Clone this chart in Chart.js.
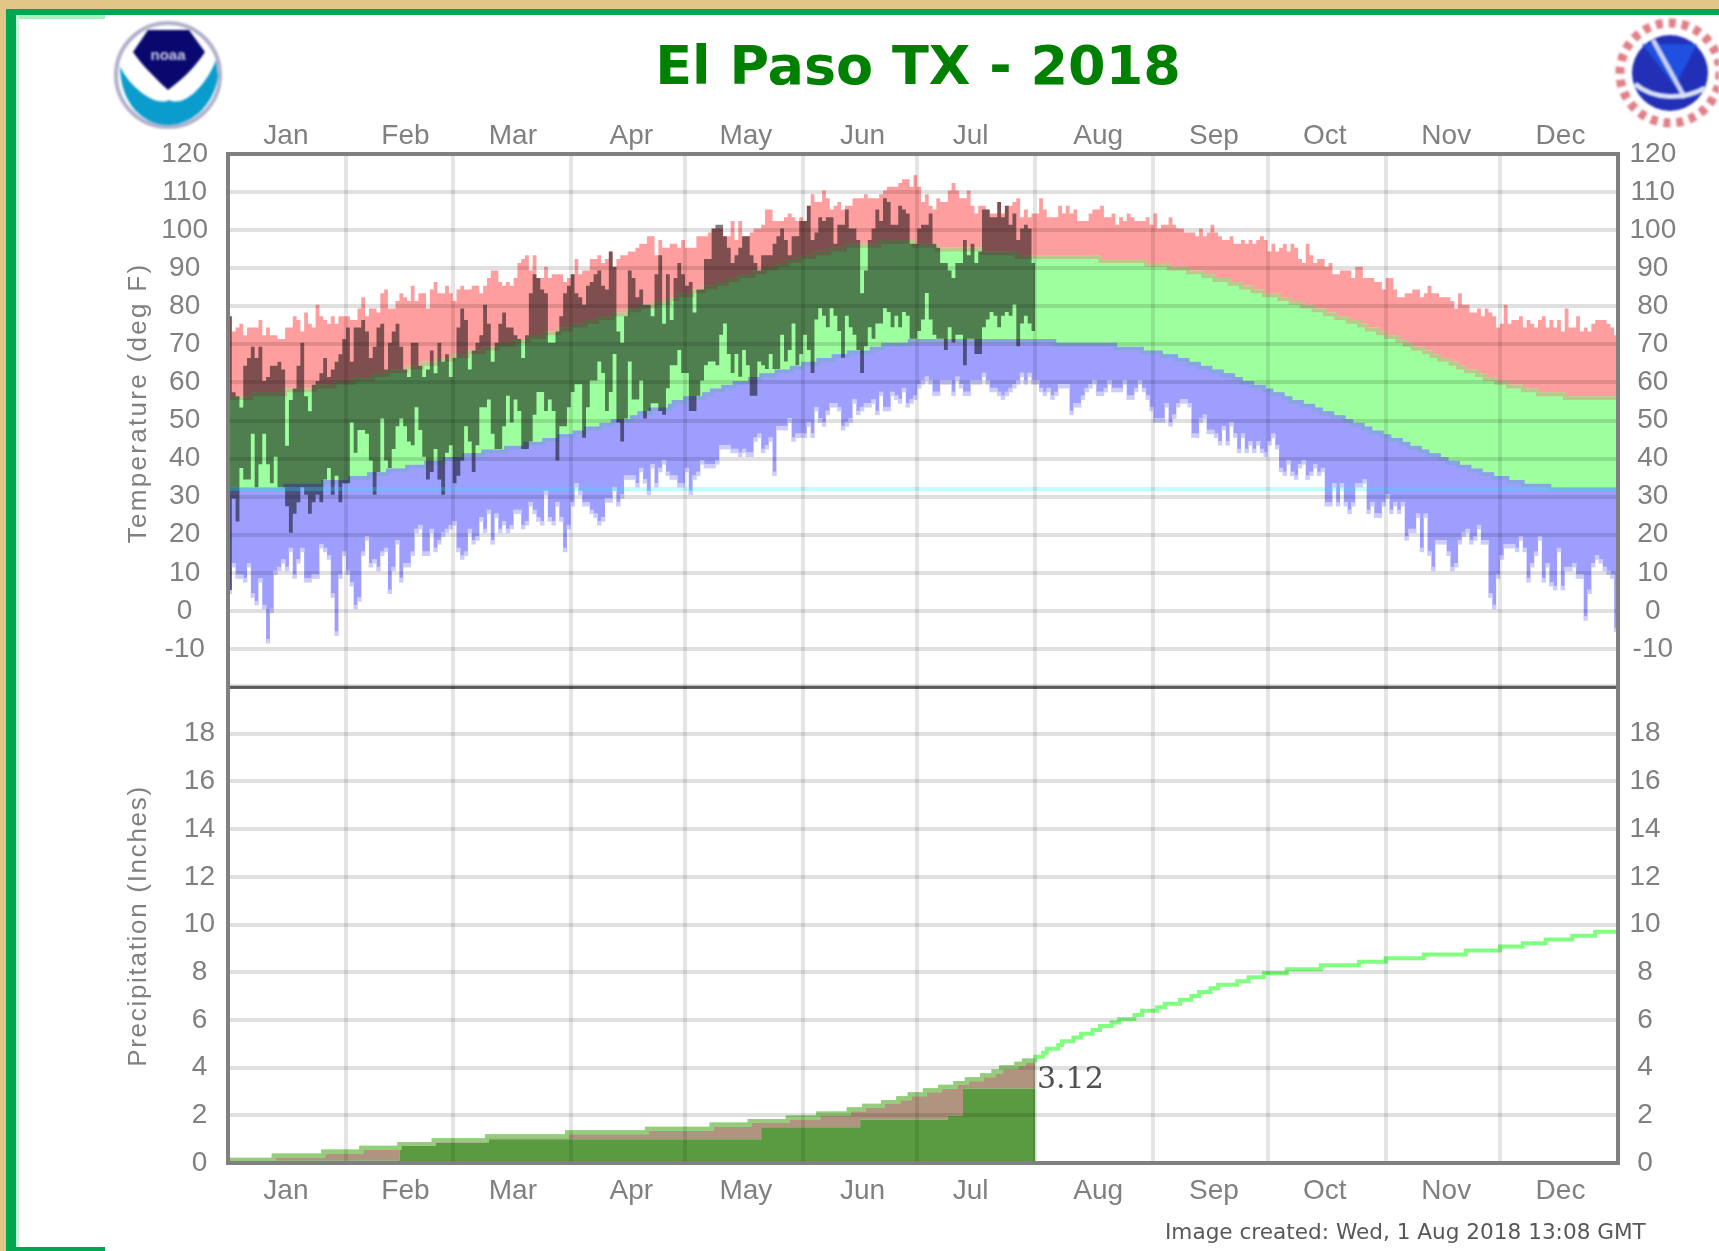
<!DOCTYPE html>
<html>
<head>
<meta charset="utf-8">
<title>El Paso TX - 2018</title>
<script src="https://cdn.jsdelivr.net/npm/chart.js@4/dist/chart.umd.min.js"></script>
<style>
    html, body { margin: 0; padding: 0; }
    body { width: 1719px; height: 1251px; position: relative; overflow: hidden; background: #e2c687; font-family: "Liberation Sans", sans-serif; }
    .abs { position: absolute; }
    .axisTitle { color: #808080; font-size: 26px; white-space: nowrap; transform: translate(-50%, -50%) rotate(-90deg); }
    canvas { position: absolute; left: 0; }
</style>
</head>
<body>
<div class="abs" style="left:6px;top:9px;right:0;bottom:0;background:#00a651;"></div>
<div class="abs" style="left:16px;top:15px;right:0;bottom:0;background:#fff;"></div>
<div class="abs" style="left:16px;top:15px;width:89px;height:4px;background:#a8f0c0;"></div>
<div class="abs" style="left:16px;top:15px;width:3px;bottom:0;background:#c8f4d8;"></div>
<div class="abs" style="left:16px;top:1247px;right:0;height:4px;background:#fff;"></div>
<div class="abs" style="left:16px;top:1247px;width:89px;height:4px;background:#00a651;"></div>

<svg class="abs" style="left:105px;top:16px;filter:blur(0.8px);" width="125" height="118" viewBox="0 0 125 118">
    <circle cx="63" cy="59" r="52" fill="#fff" stroke="#b0b0cc" stroke-width="4"/>
    <path d="M 15 50 C 22 68 50 92 64 84 C 80 92 102 68 111 44 L 113 60 C 110 85 90 109 63 109 C 36 109 15 85 15 50 Z" fill="#0a9ccc"/>
    <path d="M 28 36 L 43 14 L 84 14 L 100 36 C 92 48 82 60 63 74 C 50 62 36 48 28 36 Z" fill="#08086e"/>
    <text x="63" y="44" text-anchor="middle" font-size="15" font-weight="bold" fill="#c8c8e8" font-family="Liberation Sans">noaa</text>
</svg>
<svg class="abs" style="left:1609px;top:16px;filter:blur(0.8px);" width="110" height="118" viewBox="0 0 110 118">
    <circle cx="61" cy="57" r="50" fill="none" stroke="#e08088" stroke-width="9" stroke-dasharray="7 6"/>
    <circle cx="61" cy="57" r="38" fill="#2230b8"/>
    <path d="M 33 28 L 88 28 L 66 70 Z" fill="#2050e0"/>
    <path d="M 44 24 L 76 82" stroke="#c8d0f0" stroke-width="5" fill="none"/>
    <path d="M 26 68 C 45 84 75 84 96 72" stroke="#d8e0f4" stroke-width="5" fill="none"/>
</svg>

<canvas id="tempChart" width="1719" height="740" style="top:0;"></canvas>
<canvas id="precipChart" width="1719" height="611" style="top:640px;"></canvas>

<div class="abs" style="left:918px;top:65px;transform:translate(-50%,-50%);color:#008000;font:bold 54px 'DejaVu Sans';white-space:nowrap;filter:blur(0.5px);">El Paso TX - 2018</div>
<div class="abs axisTitle" style="left:137px;top:403px;letter-spacing:2.3px;">Temperature (deg F)</div>
<div class="abs axisTitle" style="left:137px;top:926px;letter-spacing:1.7px;">Precipitation (Inches)</div>
<div class="abs" style="left:1037px;top:1060px;color:#505050;font:30px 'DejaVu Serif';">3.12</div>
<div class="abs" style="left:1165px;top:1219px;color:#585858;font:21.6px 'DejaVu Sans';white-space:nowrap;">Image created: Wed, 1 Aug 2018 13:08 GMT</div>

<script>
const monthNames = ['Jan', 'Feb', 'Mar', 'Apr', 'May', 'Jun', 'Jul', 'Aug', 'Sep', 'Oct', 'Nov', 'Dec'];
const monthStartDays = [0, 31, 59, 90, 120, 151, 181, 212, 243, 273, 304, 334];
const monthLabelDays = [15.2, 46.6, 74.8, 105.9, 136, 166.6, 195, 228.5, 258.9, 288, 319.9, 349.9];
const daysInYear = 365;

// normals only change every few days, so they are kept as step start + value
const normalHighDays = [0, 6, 15, 23, 28, 33, 38, 42, 47, 51, 55, 59, 63, 67, 71, 75, 79, 83, 87, 90, 94, 97, 101, 105, 108, 112, 116, 118, 122, 125, 128, 131, 134, 138, 141, 144, 147, 150, 154, 158, 162, 171, 180, 186, 198, 207, 229, 241, 247, 252, 256, 259, 263, 266, 269, 272, 276, 279, 282, 285, 288, 291, 294, 297, 299, 302, 304, 307, 309, 311, 314, 316, 318, 321, 323, 325, 328, 330, 333, 336, 340, 344, 351];
const normalHighTemps = [56, 57, 58, 59, 60, 61, 62, 63, 64, 65, 66, 67, 68, 69, 70, 71, 72, 73, 74, 75, 76, 77, 78, 79, 80, 81, 82, 83, 84, 85, 86, 87, 88, 89, 90, 91, 92, 93, 94, 95, 96, 97, 96, 95, 94, 93, 92, 91, 90, 89, 88, 87, 86, 85, 84, 83, 82, 81, 80, 79, 78, 77, 76, 75, 74, 73, 72, 71, 70, 69, 68, 67, 66, 65, 64, 63, 62, 61, 60, 59, 58, 57, 56];
const normalLowDays = [0, 15, 25, 32, 37, 42, 47, 52, 57, 62, 67, 73, 78, 83, 87, 91, 94, 98, 101, 106, 108, 111, 116, 117, 120, 125, 127, 130, 133, 137, 140, 144, 148, 151, 155, 159, 163, 169, 172, 179, 217, 233, 240, 245, 249, 252, 255, 258, 261, 264, 266, 269, 272, 274, 277, 279, 282, 285, 287, 290, 293, 295, 298, 300, 303, 305, 308, 310, 313, 315, 318, 320, 323, 326, 329, 332, 336, 340, 347];
const normalLowTemps = [32, 33, 34, 35, 36, 37, 38, 39, 40, 41, 42, 43, 44, 45, 46, 47, 48, 49, 50, 51, 52, 53, 54, 55, 56, 57, 58, 59, 60, 61, 62, 63, 64, 65, 66, 67, 68, 69, 70, 71, 70, 69, 68, 67, 66, 65, 64, 63, 62, 61, 60, 59, 58, 57, 56, 55, 54, 53, 52, 51, 50, 49, 48, 47, 46, 45, 44, 43, 42, 41, 40, 39, 38, 37, 36, 35, 34, 33, 32];

const recordHigh = [
    77, 73, 74, 75, 72, 74, 74, 74, 76, 72, 74, 72, 72, 71, 71, 74, 74, 77, 76, 73,
    78, 75, 74, 80, 77, 76, 75, 77, 75, 77, 77, 77, 76, 76, 79, 82, 77, 79, 79, 78,
    83, 84, 79, 79, 81, 83, 82, 81, 85, 81, 83, 83, 79, 84, 86, 83, 83, 85, 83, 81,
    84, 85, 84, 84, 85, 85, 83, 85, 87, 89, 89, 86, 85, 86, 85, 87, 91, 92, 93, 89,
    93, 87, 87, 90, 87, 88, 88, 88, 86, 87, 88, 92, 88, 89, 89, 92, 92, 93, 91, 92,
    94, 90, 92, 93, 93, 94, 94, 95, 96, 96, 98, 98, 93, 97, 95, 95, 96, 96, 95, 97,
    95, 95, 95, 98, 98, 98, 99, 100, 100, 100, 98, 98, 102, 97, 102, 98, 98, 99, 100, 100,
    101, 105, 105, 102, 102, 102, 103, 104, 103, 102, 103, 102, 106, 109, 107, 107, 110, 108, 105, 106,
    107, 105, 106, 106, 108, 108, 108, 109, 108, 108, 108, 109, 110, 111, 111, 111, 112, 113, 113, 111,
    114, 111, 107, 109, 106, 105, 108, 107, 107, 110, 112, 110, 108, 108, 110, 106, 104, 106, 106, 105,
    104, 104, 107, 104, 106, 106, 107, 108, 103, 105, 103, 104, 104, 108, 105, 103, 103, 103, 106, 104,
    106, 104, 105, 102, 102, 102, 104, 105, 105, 106, 103, 103, 104, 101, 103, 102, 104, 103, 102, 102,
    102, 103, 101, 104, 100, 101, 101, 103, 101, 100, 100, 99, 99, 99, 98, 100, 98, 99, 101, 99,
    98, 97, 97, 98, 96, 96, 97, 96, 97, 96, 97, 98, 97, 94, 96, 94, 95, 96, 94, 96,
    95, 92, 91, 96, 93, 91, 92, 92, 90, 91, 88, 88, 89, 89, 89, 87, 90, 90, 87, 87,
    87, 86, 86, 84, 87, 87, 84, 82, 82, 83, 83, 84, 84, 82, 83, 85, 83, 83, 82, 82,
    82, 81, 79, 83, 80, 80, 78, 78, 79, 77, 79, 78, 77, 74, 75, 80, 75, 76, 76, 77,
    74, 76, 75, 74, 76, 77, 74, 76, 74, 76, 73, 79, 74, 74, 77, 73, 74, 73, 75, 76,
    76, 76, 75, 74, 72
];
const recordLow = [
    5, 12, 9, 9, 8, 12, 4, 2, 8, 1, -8, 0, 10, 11, 13, 11, 16, 9, 13, 16,
    8, 8, 9, 9, 17, 16, 14, 4, -6, 9, 15, 10, 7, 1, 3, 15, 19, 12, 13, 11,
    15, 16, 5, 11, 18, 8, 12, 12, 15, 21, 22, 15, 15, 21, 16, 18, 20, 21, 22, 23,
    16, 14, 15, 21, 18, 19, 24, 21, 26, 18, 25, 21, 23, 21, 22, 26, 26, 22, 23, 28,
    26, 24, 23, 31, 24, 23, 28, 24, 16, 22, 28, 33, 31, 28, 28, 26, 25, 23, 24, 29,
    29, 32, 28, 30, 35, 35, 35, 33, 37, 34, 31, 38, 33, 37, 39, 36, 35, 35, 33, 33,
    37, 31, 35, 36, 39, 38, 38, 38, 39, 43, 43, 43, 42, 42, 41, 42, 41, 41, 45, 46,
    42, 43, 45, 36, 48, 48, 48, 50, 45, 46, 46, 46, 49, 46, 53, 50, 49, 52, 54, 54,
    53, 48, 49, 50, 55, 52, 53, 54, 54, 55, 52, 57, 53, 53, 57, 56, 55, 58, 54, 55,
    56, 59, 60, 61, 60, 57, 57, 60, 60, 60, 57, 61, 59, 57, 57, 60, 60, 60, 62, 60,
    58, 58, 57, 56, 57, 58, 59, 60, 62, 60, 62, 60, 60, 58, 57, 58, 56, 57, 59, 59,
    59, 52, 54, 54, 56, 58, 59, 60, 57, 57, 58, 60, 58, 58, 58, 60, 56, 56, 58, 60,
    58, 56, 53, 50, 50, 50, 54, 49, 51, 54, 55, 55, 54, 46, 46, 50, 51, 47, 47, 46,
    44, 48, 44, 49, 46, 42, 46, 42, 44, 42, 44, 42, 41, 44, 46, 43, 37, 36, 39, 36,
    35, 38, 39, 35, 36, 38, 36, 37, 28, 28, 33, 28, 33, 28, 26, 28, 33, 33, 34, 26,
    28, 25, 25, 28, 30, 26, 28, 26, 28, 19, 21, 21, 25, 16, 25, 15, 11, 18, 18, 18,
    15, 11, 12, 18, 20, 21, 18, 19, 22, 18, 18, 4, 1, 9, 14, 17, 17, 17, 16, 19,
    16, 8, 12, 15, 19, 8, 12, 7, 6, 16, 6, 11, 11, 12, 9, 9, -2, 5, 12, 14,
    13, 11, 10, 9, -5
];
// observed values stop at Jul 31, the day the picture was made
const actualHigh = [
    77, 57, 56, 53, 64, 66, 69, 66, 69, 60, 61, 64, 64, 65, 63, 43, 55, 58, 64, 70,
    56, 52, 59, 60, 62, 66, 61, 63, 65, 67, 71, 74, 65, 74, 74, 76, 73, 66, 69, 74,
    75, 63, 70, 73, 75, 69, 63, 61, 70, 70, 64, 61, 63, 68, 62, 70, 65, 67, 61, 66,
    74, 79, 76, 63, 68, 70, 72, 80, 75, 65, 70, 75, 78, 74, 74, 72, 71, 66, 72, 83,
    88, 87, 84, 83, 70, 70, 73, 77, 83, 85, 88, 83, 82, 80, 85, 86, 88, 89, 85, 84,
    94, 90, 73, 70, 77, 89, 87, 82, 84, 80, 80, 77, 88, 93, 75, 88, 76, 87, 91, 88,
    85, 86, 78, 84, 84, 92, 92, 100, 101, 101, 98, 95, 91, 93, 95, 98, 98, 93, 91, 89,
    93, 93, 93, 96, 98, 100, 97, 93, 98, 98, 102, 102, 106, 97, 99, 103, 102, 103, 103, 96,
    101, 101, 105, 100, 100, 97, 83, 89, 97, 100, 105, 102, 108, 107, 101, 101, 106, 105, 104, 96,
    96, 100, 101, 101, 104, 96, 95, 91, 91, 89, 87, 91, 91, 97, 93, 96, 91, 94, 105, 105,
    103, 103, 107, 103, 106, 101, 104, 97, 100, 101, 100, 91
];
const actualLow = [
    6, 30, 24, 38, 35, 35, 47, 33, 39, 47, 39, 34, 41, 33, 33, 28, 21, 26, 29, 33,
    31, 26, 29, 31, 29, 35, 38, 31, 36, 29, 34, 34, 50, 42, 48, 48, 47, 40, 31, 37,
    51, 40, 38, 43, 49, 51, 49, 45, 44, 54, 48, 41, 35, 37, 43, 35, 31, 42, 44, 34,
    36, 40, 49, 45, 37, 44, 54, 54, 56, 47, 43, 43, 49, 57, 50, 56, 53, 43, 43, 45,
    52, 58, 58, 53, 56, 53, 40, 49, 49, 54, 58, 60, 60, 46, 54, 61, 61, 66, 63, 53,
    58, 68, 50, 45, 51, 66, 56, 56, 61, 51, 53, 55, 55, 53, 52, 59, 65, 65, 69, 63,
    63, 53, 53, 57, 61, 65, 66, 66, 65, 73, 76, 68, 63, 68, 62, 69, 65, 57, 57, 66,
    65, 64, 68, 64, 64, 73, 66, 69, 76, 65, 68, 73, 69, 63, 77, 80, 78, 75, 80, 78,
    74, 67, 78, 75, 73, 69, 63, 70, 75, 72, 76, 76, 80, 79, 75, 78, 75, 79, 78, 72,
    72, 74, 77, 84, 77, 73, 72, 72, 69, 75, 71, 73, 73, 65, 72, 72, 68, 68, 75, 77,
    79, 78, 75, 78, 79, 78, 81, 70, 76, 78, 76, 74
];
const freezingDays = [0, 365];
const freezingTemps = [32, 32];

const normalPrecipDays = [0, 12, 25, 35, 45, 54, 68, 89, 110, 127, 137, 147, 155, 163, 167, 172, 176, 179, 183, 187, 191, 194, 198, 201, 203, 207, 209, 212, 214, 215, 218, 219, 222, 224, 227, 229, 232, 234, 238, 240, 244, 246, 250, 253, 255, 258, 260, 265, 268, 272, 278, 287, 297, 304, 314, 325, 334, 340, 346, 353, 359];
const normalPrecip = [0.14, 0.31, 0.48, 0.64, 0.80, 0.95, 1.12, 1.29, 1.44, 1.61, 1.76, 1.91, 2.08, 2.25, 2.40, 2.56, 2.71, 2.88, 3.05, 3.20, 3.35, 3.51, 3.68, 3.84, 4.01, 4.16, 4.30, 4.46, 4.62, 4.79, 4.95, 5.11, 5.26, 5.42, 5.58, 5.74, 5.89, 6.04, 6.21, 6.38, 6.53, 6.68, 6.84, 7.00, 7.17, 7.33, 7.47, 7.62, 7.79, 7.96, 8.12, 8.29, 8.44, 8.58, 8.74, 8.91, 9.08, 9.21, 9.37, 9.53, 9.70];
const actualPrecipDays = [0, 12, 45, 68, 140, 166, 189, 193];
const actualPrecip = [0.02, 0.10, 0.84, 1.00, 1.50, 1.82, 1.98, 3.12];
const lastObservedDay = 212;

const tempTicks = { min: -20, max: 120, step: 10 };
const precipTicks = { min: 0, max: 20, step: 2 };

// the source picture draws each day as a block one degree high, sitting a bit off the integer
const rowTop = 0.4;
const rowBottom = -0.5;
const rowMiddle = -0.1;

const gridColor = 'rgba(0, 0, 0, 0.12)';
const monthGridColor = 'rgba(0, 0, 0, 0.1)';
const frameColor = '#808080';
const labelFont = { family: 'Liberation Sans', size: 28 };

function stepPoints(days, values, endDay, shift = 0) {
    const points = days.map((day, i) => ({ x: day, y: values[i] + shift }));
    points.push({ x: endDay, y: values[values.length - 1] + shift });
    return points;
}

function dailyPoints(values, shift = 0) {
    return stepPoints(values.map((v, i) => i), values, values.length, shift);
}

function band(label, data, order, fillColor, target) {
    return {
        label, data, order, stepped: true, pointRadius: 0, borderWidth: 0,
        backgroundColor: fillColor, fill: { target }
    };
}

function rowLine(label, data, order, color, width = 3.8) {
    return {
        label, data, order, stepped: true, pointRadius: 0, borderWidth: width,
        borderColor: color, fill: false, borderCapStyle: 'butt', borderJoinStyle: 'miter'
    };
}

function fixWidth(width) {
    return (scale) => { scale.width = width; };
}

function fixHeight(height) {
    return (scale) => { scale.height = height; };
}

function monthGridAxis(position, height, border) {
    return {
        type: 'linear', position, min: 0, max: daysInYear, offset: false,
        afterBuildTicks: (scale) => { scale.ticks = monthStartDays.map(value => ({ value })); },
        afterFit: fixHeight(height),
        grid: { display: true, color: monthGridColor, lineWidth: 4, drawTicks: false, z: 1, offset: false },
        border,
        ticks: { display: false }
    };
}

function monthLabelAxis(position, height, padding) {
    return {
        type: 'linear', position, min: 0, max: daysInYear, offset: false,
        afterBuildTicks: (scale) => { scale.ticks = monthLabelDays.map(value => ({ value })); },
        afterFit: fixHeight(height),
        grid: { display: false },
        border: { display: true, color: frameColor, width: 4, z: 2 },
        ticks: {
            padding, color: frameColor, font: labelFont, autoSkip: false, maxRotation: 0,
            callback: (value, index) => monthNames[index]
        }
    };
}

function valueAxis(position, width, limits, hidden, padding, showGrid) {
    return {
        type: 'linear', position, min: limits.min, max: limits.max,
        afterFit: fixWidth(width),
        grid: { display: showGrid, color: gridColor, lineWidth: 4, drawTicks: false, z: 1 },
        border: { display: true, color: frameColor, width: 4, z: 2 },
        ticks: {
            stepSize: limits.step, padding, color: frameColor, font: labelFont, crossAlign: 'center', autoSkip: false,
            callback: (value) => (value === hidden ? '' : value)
        }
    };
}

const lavenderCaps = recordLow.map((v, i) => ({ x: i + 0.5, y: [v + rowBottom, v + rowBottom + 1] }));

new Chart(document.getElementById('tempChart').getContext('2d'), {
    type: 'line',
    data: {
        datasets: [
            band('Record high', dailyPoints(recordHigh, rowTop), 9, '#ff9e9e', 1),
            band('Normal high', stepPoints(normalHighDays, normalHighTemps, daysInYear, rowTop), 9, '#9eff9e', 2),
            band('Normal low', stepPoints(normalLowDays, normalLowTemps, daysInYear, rowTop), 9, '#9e9eff', 3),
            { label: 'Record low', data: dailyPoints(recordLow, rowBottom + 1), order: 9, stepped: true, pointRadius: 0, borderWidth: 0, fill: false },
            { label: 'Record low cap', type: 'bar', data: lavenderCaps, order: 8, backgroundColor: '#ccccff', barPercentage: 1, categoryPercentage: 1, grouped: false },
            rowLine('Normal high row', stepPoints(normalHighDays, normalHighTemps, daysInYear, rowMiddle), 7, '#bcc88c'),
            rowLine('Normal low row', stepPoints(normalLowDays, normalLowTemps, daysInYear, rowMiddle), 7, '#87a5e1'),
            band('Actual high', dailyPoints(actualHigh, rowTop), 5, 'rgba(0, 0, 0, 0.5)', 8),
            { label: 'Actual low', data: dailyPoints(actualLow, rowBottom), order: 6, stepped: true, pointRadius: 0, borderWidth: 0, fill: false },
            rowLine('Freezing', stepPoints(freezingDays, freezingTemps, daysInYear), 4, 'rgba(0, 255, 255, 0.25)', 4)
        ]
    },
    options: {
        responsive: false,
        animation: false,
        events: [],
        plugins: { legend: { display: false }, tooltip: { enabled: false } },
        scales: {
            x: monthGridAxis('bottom', 53, { display: true, color: '#666666', width: 3, z: 2 }),
            xLabels: monthLabelAxis('top', 154, -7),
            y: valueAxis('left', 228, tempTicks, -20, 20, true),
            yRight: valueAxis('right', 101, tempTicks, -20, 11.5, false)
        }
    }
});

const normalToDateDays = normalPrecipDays.filter(day => day < lastObservedDay);
const normalToDate = normalPrecip.slice(0, normalToDateDays.length);

new Chart(document.getElementById('precipChart').getContext('2d'), {
    type: 'line',
    data: {
        datasets: [
            { label: 'Normal to date', data: stepPoints(normalToDateDays, normalToDate, lastObservedDay), order: 5, stepped: true, pointRadius: 0, borderWidth: 0, backgroundColor: '#b0947f', fill: { target: 1 } },
            { label: 'Observed', data: stepPoints(actualPrecipDays, actualPrecip, lastObservedDay), order: 4, stepped: true, pointRadius: 0, borderWidth: 0, backgroundColor: '#5a9b41', fill: 'origin' },
            rowLine('Normal precipitation', stepPoints(normalPrecipDays, normalPrecip, daysInYear), 3, '#80ff80', 4),
            rowLine('Normal past', stepPoints(normalToDateDays, normalToDate, lastObservedDay), 2, '#96cc7c', 4)
        ]
    },
    options: {
        responsive: false,
        animation: false,
        events: [],
        plugins: { legend: { display: false }, tooltip: { enabled: false } },
        scales: {
            x: monthGridAxis('top', 46, { display: false }),
            xLabels: monthLabelAxis('bottom', 88, 3.5),
            y: valueAxis('left', 228, precipTicks, 20, 13, true),
            yRight: valueAxis('right', 101, precipTicks, 20, 11.5, false)
        }
    }
});
</script>
</body>
</html>
